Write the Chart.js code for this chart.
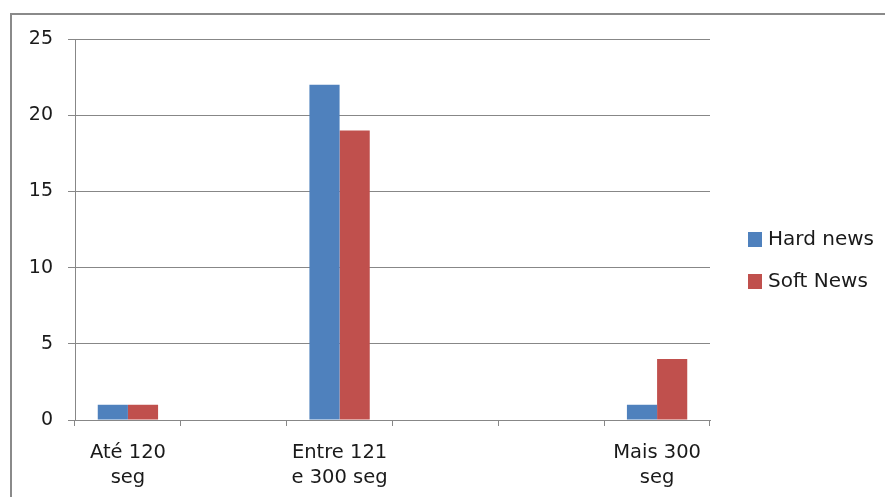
<!DOCTYPE html>
<html>
<head>
<meta charset="utf-8">
<script src="https://cdn.jsdelivr.net/npm/chart.js@4/dist/chart.umd.min.js"></script>
<style>
  html, body { margin: 0; padding: 0; background: #fff; }
  #wrap { width: 885px; height: 497px; position: relative; }
</style>
</head>
<body>
<div id="wrap"><canvas id="c" width="885" height="497"></canvas></div>
<script>
// Duration buckets (blank slots keep the original spacing of the axis)
const categories = [["Até 120", "seg"], "", ["Entre 121", "e 300 seg"], "", "", ["Mais 300", "seg"]];
const hardNews = [1, null, 22, null, null, 1];
const softNews = [1, null, 19, null, null, 4];
const seriesNames = ["Hard news", "Soft News"];
const yTicks = [0, 5, 10, 15, 20, 25];

const FONT = "'DejaVu Sans', sans-serif";
const GRID = "#878787";

// Outer frame of the chart
const framePlugin = {
  id: "frame",
  beforeDraw(chart) {
    const ctx = chart.ctx;
    ctx.save();
    ctx.fillStyle = "#fff";
    ctx.fillRect(0, 0, chart.width, chart.height);
    ctx.strokeStyle = "#8a8a8a";
    ctx.lineWidth = 2;
    ctx.strokeRect(11, 14, chart.width + 20, chart.height + 20);
    ctx.restore();
  }
};

// Legend drawn to the right of the plot, one entry per dataset
const sideLegend = {
  id: "sideLegend",
  afterDraw(chart) {
    const ctx = chart.ctx;
    ctx.save();
    ctx.font = "20px " + FONT;
    ctx.textBaseline = "middle";
    chart.data.datasets.forEach((ds, i) => {
      const cy = 239 + i * 42;
      ctx.fillStyle = ds.backgroundColor;
      ctx.fillRect(748, cy - 7, 14, 15);
      ctx.fillStyle = "#1a1a1a";
      ctx.fillText(ds.label, 768, cy + 1);
    });
    ctx.restore();
  }
};

new Chart(document.getElementById("c"), {
  type: "bar",
  data: {
    labels: categories,
    datasets: [
      { label: seriesNames[0], data: hardNews, backgroundColor: "#4F81BD" },
      { label: seriesNames[1], data: softNews, backgroundColor: "#C0504D" }
    ]
  },
  options: {
    responsive: false,
    animation: false,
    layout: { padding: { top: 39, right: 175, bottom: 0, left: 0 } },
    datasets: { bar: { categoryPercentage: 0.57, barPercentage: 1.0 } },
    plugins: { legend: { display: false }, tooltip: { enabled: false } },
    scales: {
      x: {
        grid: { offset: true, drawOnChartArea: false, drawTicks: true, tickLength: 6, color: GRID },
        border: { display: true, color: GRID, width: 1 },
        ticks: {
          color: "#1a1a1a",
          font: { family: FONT, size: 19.5, lineHeight: 1.3 },
          padding: 14,
          maxRotation: 0,
          autoSkip: false
        },
        afterFit(scale) { scale.height = 77; }
      },
      y: {
        min: 0,
        max: 25,
        afterBuildTicks(scale) { scale.ticks = yTicks.map(v => ({ value: v })); },
        grid: { color: GRID, tickLength: 7, drawTicks: true },
        border: { display: true, color: GRID, width: 1 },
        ticks: {
          color: "#1a1a1a",
          font: { family: FONT, size: 19 },
          padding: 15
        },
        afterFit(scale) { scale.width = 75; }
      }
    }
  },
  plugins: [framePlugin, sideLegend]
});
</script>
</body>
</html>
